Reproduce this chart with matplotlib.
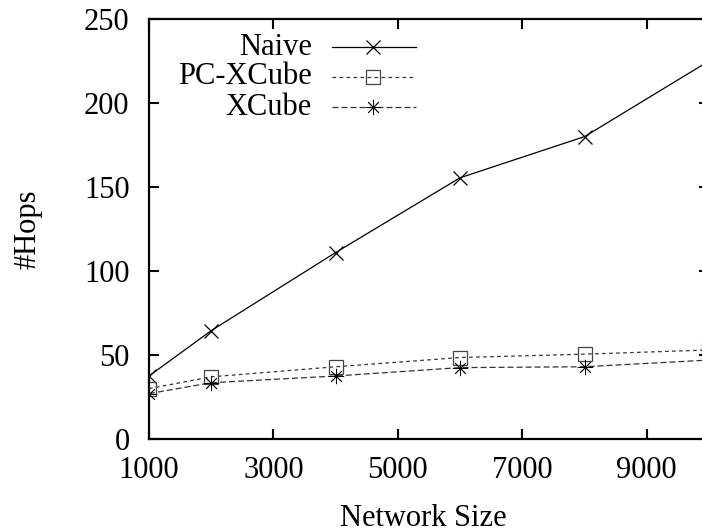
import matplotlib
matplotlib.use("Agg")
import matplotlib.pyplot as plt

# data
network_size = [1000, 2000, 4000, 6000, 8000, 10000]
naive = [37.5, 64.5, 111, 155.5, 180, 225]
pc_xcube = [30, 37, 43, 48.5, 50.5, 53]
xcube = [27, 33.5, 37.5, 42.5, 43, 47]

x_ticks = [1000, 3000, 5000, 7000, 9000]
y_ticks = [0, 50, 100, 150, 200, 250]

series_names = ["Naive", "PC-XCube", "XCube"]

plt.rcParams["font.family"] = ["Liberation Serif", "DejaVu Serif"]
plt.rcParams["font.size"] = 22


def main():
    fig = plt.figure(figsize=(7.02, 5.32), dpi=100)
    # plot area runs past the right edge of the picture, as in the reference
    ax = fig.add_axes([149 / 702, 93 / 532, 560 / 702, 420 / 532])

    styles = [
        dict(color="black", linestyle="-", marker="x", markersize=9.5,
             markeredgewidth=0.9),
        dict(color="#333333", linestyle=(0, (2.9, 2.7)), marker="s",
             markersize=9.5, markerfacecolor="none", markeredgecolor="#444444",
             markeredgewidth=0.9),
        dict(color="#333333", linestyle=(0, (4.8, 2.4)), marker=(8, 2, 0),
             markersize=11, markeredgecolor="black", markeredgewidth=0.6),
    ]
    values = [naive, pc_xcube, xcube]

    for name, vals, st in zip(series_names, values, styles):
        ax.plot(network_size, vals, linewidth=0.9, clip_on=True, **st)

    ax.set_xlim(1000, 10000)
    ax.set_ylim(0, 250)
    ax.set_xticks(x_ticks)
    ax.set_yticks(y_ticks)

    for sp in ax.spines.values():
        sp.set_linewidth(1.6)
    ax.tick_params(axis="both", direction="in", length=7.5, width=1.5,
                   top=True, right=True)
    ax.tick_params(axis="x", pad=12)
    ax.tick_params(axis="y", pad=14)

    ax.set_xlabel("Network Size")
    ax.xaxis.set_label_coords(0.49, -0.154)
    ax.set_ylabel("#Hops")
    ax.yaxis.set_label_coords(-0.191, 0.5)

    # gnuplot style key: right aligned text, sample line after it
    rows_y = [0.933, 0.862, 0.790]
    for name, st, yy in zip(series_names, styles, rows_y):
        line_st = {k: v for k, v in st.items() if not k.startswith("marker")}
        ax.plot([0.327, 0.477], [yy, yy], transform=ax.transAxes,
                linewidth=0.9, clip_on=False, **line_st)
        mk_st = {k: v for k, v in st.items() if k != "linestyle"}
        ax.plot([0.400], [yy], transform=ax.transAxes, linestyle="none",
                clip_on=False, **mk_st)
        ax.text(0.291, yy, name, transform=ax.transAxes, ha="right",
                va="center")

    fig.savefig("out.png", dpi=100)


if __name__ == "__main__":
    main()
